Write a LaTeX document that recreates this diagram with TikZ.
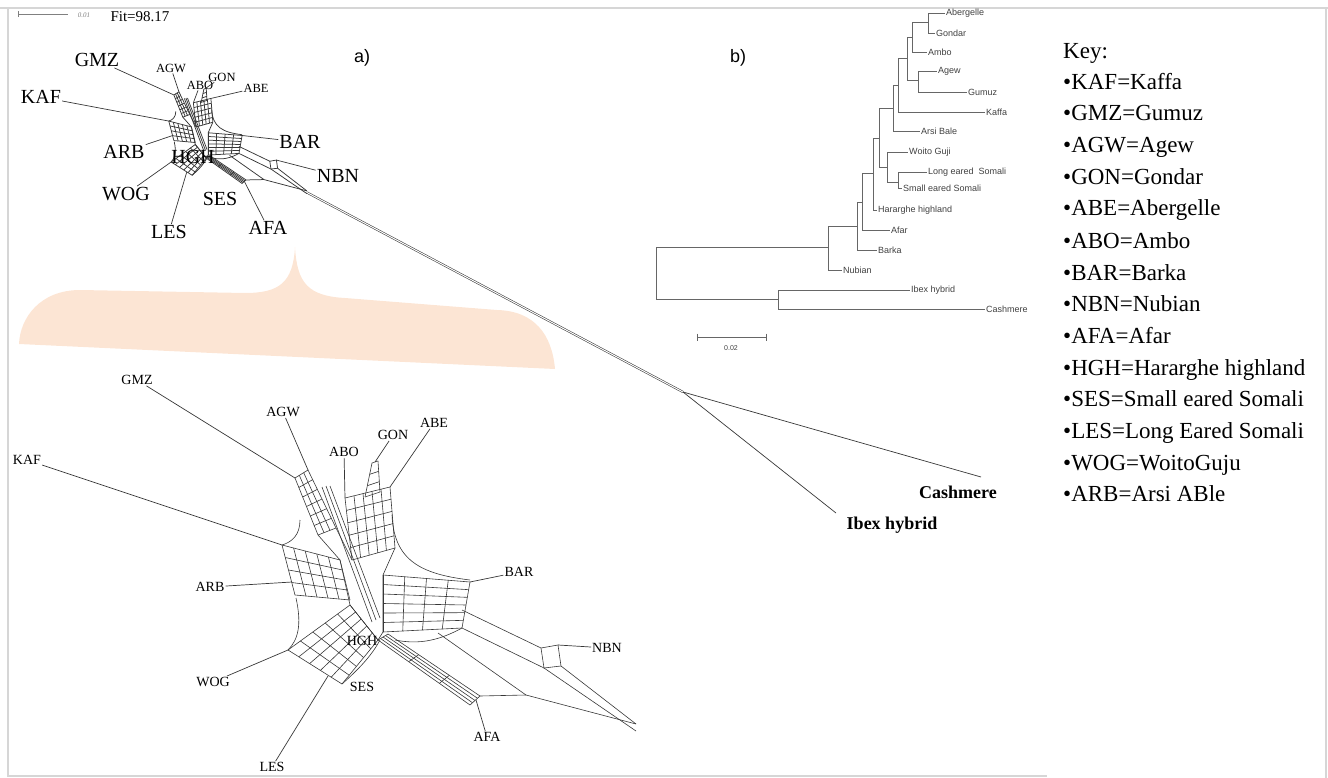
\documentclass[tikz,border=0pt]{standalone}
\usepackage{fontspec}
\setmainfont{Liberation Serif}
\newfontfamily\arialfont{Liberation Sans}
\usetikzlibrary{calc}
\definecolor{peach}{RGB}{252,229,212}
\definecolor{framegray}{RGB}{214,214,214}
\definecolor{netgray}{RGB}{55,55,55}

\newcommand{\webarm}[6]{%
  \foreach \i in {0,...,#5}{\draw[webline] ($(#1)!{\i/#5}!(#2)$) -- ($(#3)!{\i/#5}!(#4)$);}
  \foreach \j in {0,...,#6}{\draw[webline] ($(#1)!{\j/#6}!(#3)$) -- ($(#2)!{\j/#6}!(#4)$);}
}

\newcommand{\netweb}[1]{%
  \webarm{318,535}{336,528}{295,478}{308,470}{3}{6}
  \webarm{352,560}{395,548}{345,498}{390,487}{5}{5}
  \webarm{365,497}{380,492}{372,463}{378,461}{1}{3}
  \webarm{340,560}{350,600}{282,545}{295,595}{4}{5}
  \webarm{350,605}{378,640}{288,650}{342,684}{5}{5}
  \webarm{383,575}{383,632}{470,582}{462,628}{6}{4}
  \webarm{378,640}{388,634}{470,705}{480,696}{4}{3}
  \draw[webline] (322,487) -- (372,622);
  \draw[webline] (326,486) -- (376,620);
  \draw[webline] (330,486) -- (380,618);
  \draw[webline] (318,535) -- (340,560) -- (350,605) -- (378,640) -- (383,632) -- (383,575) -- (395,548);
  \draw[webline] (336,528) -- (352,560);
  \draw[webline] (392,515) .. controls (394,560) and (420,574) .. (470,580);
  \draw[webline] (300,520) .. controls (300,535) and (292,542) .. (282,545);
  \draw[webline] (296,598) .. controls (302,625) and (298,640) .. (288,650);
  \draw[webline] (342,684) .. controls (360,668) and (372,655) .. (380,640);
  \draw[webline] (462,628) .. controls (440,640) and (420,645) .. (395,640);
  \draw[webline] (541,648) -- (558,645) -- (561,666) -- (544,668) -- cycle;
  \draw[webline] (462,610) -- (541,648);
  \draw[webline] (462,628) -- (544,668);
  \draw[webline] (480,696) -- (526,695);
  \draw[webline] (438,633) -- (526,695);
  \coordinate (#1outa) at (636,724);
  \coordinate (#1outb) at (636,731);
  \coordinate (#1out) at (636,728);
  \draw[webline] (544,668) -- (#1outb);
  \draw[webline] (561,666) -- (#1outa);
  \draw[webline] (526,695) -- (#1outa);
  \coordinate (#1gmz) at (295,478);
  \coordinate (#1agw) at (308,470);
  \coordinate (#1abo) at (345,498);
  \coordinate (#1gon) at (375,462);
  \coordinate (#1abe) at (390,487);
  \coordinate (#1kaf) at (282,545);
  \coordinate (#1arb) at (292,582);
  \coordinate (#1wog) at (288,650);
  \coordinate (#1les) at (328,676);
  \coordinate (#1bar) at (470,582);
  \coordinate (#1nbn) at (558,645);
  \coordinate (#1afa) at (476,700);
}

\begin{document}
\begin{tikzpicture}[x=1pt,y=-1pt,
  framel/.style={draw=framegray,line width=2.5pt},
  webline/.style={draw=netgray,line width=0.6pt},
  leafline/.style={draw=netgray,line width=0.7pt},
  longedge/.style={draw=netgray,line width=0.55pt,double=white,double distance=1pt},
  biglab/.style={font=\fontsize{20}{22}\selectfont,inner sep=1pt},
  smalllab/.style={font=\fontsize{12.5}{14}\selectfont,inner sep=1pt},
  netlab/.style={font=\fontsize{14}{16}\selectfont,inner sep=1pt},
  outlab/.style={font=\bfseries\fontsize{18}{20}\selectfont,inner sep=1pt},
  panel/.style={font=\arialfont\fontsize{18}{20}\selectfont},
  treeline/.style={draw=black!60,line width=0.75pt},
  treelab/.style={font=\arialfont\fontsize{9}{10}\selectfont,text=black!75,anchor=west,inner sep=1pt},
  keytxt/.style={font=\fontsize{23}{25}\selectfont,anchor=base west,inner sep=0pt}]
\useasboundingbox (0,0) rectangle (1328,778);

\draw[framel] (0,8) -- (1328,8);
\draw[framel] (8,8) -- (8,776) -- (1047,776);
\draw[framel] (1326,8) -- (1326,778);

\fill[peach] (295,247) .. controls (293,282) and (280,293) .. (245,293) -- (80,290)
  .. controls (40,290) and (20,318) .. (19,344) -- (555,369)
  .. controls (552,335) and (535,311) .. (497,310) -- (345,298)
  .. controls (308,296) and (297,283) .. (295,247) -- cycle;

\coordinate (sb1) at (18,14);
\coordinate (sb2) at (68,14);
\draw[black!50,line width=0.6pt,|-] (sb1) -- (sb2);
\node[font=\itshape\fontsize{7}{8}\selectfont,text=black!50] (sbtxt) at (84,15) {0.01};
\node[font=\fontsize{15}{16}\selectfont] (fit) at (140,17) {Fit=98.17};
\node[panel] (pa) at (362,58) {a)};
\node[panel] (pb) at (738,58) {b)};

\begin{scope}[shift={(207,155)},scale=0.39,shift={(-380,-632)},webline/.append style={line width=0.75pt}]
\netweb{t}
\end{scope}
\netweb{b}

\node[biglab] (tGMZ) at (97,60) {GMZ};
\node[biglab] (tKAF) at (41,97) {KAF};
\node[smalllab] (tAGW) at (171,68) {AGW};
\node[smalllab] (tABO) at (200,85) {ABO};
\node[smalllab] (tGON) at (222,77) {GON};
\node[smalllab] (tABE) at (256,88) {ABE};
\node[biglab] (tBAR) at (300,142) {BAR};
\node[biglab] (tARB) at (124,152) {ARB};
\node[biglab] (tHGH) at (193,157) {HGH};
\node[biglab] (tNBN) at (338,176) {NBN};
\node[biglab] (tWOG) at (126,194) {WOG};
\node[biglab] (tSES) at (220,199) {SES};
\node[biglab] (tLES) at (169,232) {LES};
\node[biglab] (tAFA) at (268,228) {AFA};

\draw[leafline] (tGMZ) -- (tgmz);
\draw[leafline] (tKAF) -- (tkaf);
\draw[leafline] (tAGW) -- (tagw);
\draw[leafline] (tABO) -- (tabo);
\draw[leafline] (tGON) -- (tgon);
\draw[leafline] (tABE) -- (tabe);
\draw[leafline] (tBAR) -- (tbar);
\draw[leafline] (tARB) -- (tarb);
\draw[leafline] (tNBN) -- (tnbn);
\draw[leafline] (tWOG) -- (twog);
\draw[leafline] (tLES) -- (tles);
\draw[leafline] (tAFA) -- (tafa);

\coordinate (junc) at (683,392);
\coordinate (cashtip) at (981,477);
\coordinate (ibextip) at (836,513);
\draw[longedge] (tout) -- (junc);
\draw[leafline] (junc) -- (cashtip);
\draw[leafline] (junc) -- (ibextip);
\node[outlab] (lCash) at (958,492) {Cashmere};
\node[outlab] (lIbex) at (892,525) {Ibex hybrid};

\node[netlab] (bGMZ) at (137,380) {GMZ};
\node[netlab] (bAGW) at (283,412) {AGW};
\node[netlab] (bABO) at (344,452) {ABO};
\node[netlab] (bGON) at (393,435) {GON};
\node[netlab] (bABE) at (434,423) {ABE};
\node[netlab] (bKAF) at (27,460) {KAF};
\node[netlab] (bBAR) at (519,572) {BAR};
\node[netlab] (bARB) at (210,587) {ARB};
\node[netlab] (bHGH) at (362,641) {HGH};
\node[netlab] (bNBN) at (607,648) {NBN};
\node[netlab] (bWOG) at (213,682) {WOG};
\node[netlab] (bSES) at (362,687) {SES};
\node[netlab] (bAFA) at (487,737) {AFA};
\node[netlab] (bLES) at (272,767) {LES};

\draw[leafline] (bGMZ) -- (bgmz);
\draw[leafline] (bKAF) -- (bkaf);
\draw[leafline] (bAGW) -- (bagw);
\draw[leafline] (bABO) -- (babo);
\draw[leafline] (bGON) -- (bgon);
\draw[leafline] (bABE) -- (babe);
\draw[leafline] (bBAR) -- (bbar);
\draw[leafline] (bARB) -- (barb);
\draw[leafline] (bNBN) -- (bnbn);
\draw[leafline] (bWOG) -- (bwog);
\draw[leafline] (bLES) -- (bles);
\draw[leafline] (bAFA) -- (bafa);

\coordinate (root) at (656,273);
\coordinate (n13) at (828,247);
\coordinate (n12) at (857,226);
\coordinate (n11) at (862,202);
\coordinate (n10) at (873,173);
\coordinate (n7) at (879,138);
\coordinate (n6) at (893,108);
\coordinate (n5) at (898,85);
\coordinate (n3) at (907,58);
\coordinate (n2) at (912,37);
\coordinate (n1) at (928,22);
\coordinate (n4) at (918,80);
\coordinate (n9) at (887,167);
\coordinate (n8) at (898,182);
\coordinate (nout) at (778,299);

\node[treelab] (lAber) at (945,13) {Abergelle};
\node[treelab] (lGond) at (935,33) {Gondar};
\node[treelab] (lAmbo) at (927,52) {Ambo};
\node[treelab] (lAgew) at (937,71) {Agew};
\node[treelab] (lGumuz) at (967,92) {Gumuz};
\node[treelab] (lKaffa) at (985,112) {Kaffa};
\node[treelab] (lArsi) at (920,131) {Arsi Bale};
\node[treelab] (lWoito) at (908,152) {Woito Guji};
\node[treelab] (lLong) at (927,172) {Long eared\ \ Somali};
\node[treelab] (lSmall) at (902,188) {Small eared Somali};
\node[treelab] (lHH) at (877,210) {Hararghe highland};
\node[treelab] (lAfar) at (890,230) {Afar};
\node[treelab] (lBarka) at (877,250) {Barka};
\node[treelab] (lNub) at (842,270) {Nubian};
\node[treelab] (lIbx) at (910,290) {Ibex hybrid};
\node[treelab] (lCsh) at (985,309) {Cashmere};

\draw[treeline] (root) |- (n13);
\draw[treeline] (root) |- (nout);
\draw[treeline] (n13) |- (n12);
\draw[treeline] (n13) |- (lNub.west);
\draw[treeline] (n12) |- (n11);
\draw[treeline] (n12) |- (lBarka.west);
\draw[treeline] (n11) |- (n10);
\draw[treeline] (n11) |- (lAfar.west);
\draw[treeline] (n10) |- (n7);
\draw[treeline] (n10) |- (lHH.west);
\draw[treeline] (n7) |- (n6);
\draw[treeline] (n7) |- (n9);
\draw[treeline] (n6) |- (n5);
\draw[treeline] (n6) |- (lArsi.west);
\draw[treeline] (n5) |- (n3);
\draw[treeline] (n5) |- (lKaffa.west);
\draw[treeline] (n3) |- (n2);
\draw[treeline] (n3) |- (n4);
\draw[treeline] (n2) |- (n1);
\draw[treeline] (n2) |- (lAmbo.west);
\draw[treeline] (n1) |- (lAber.west);
\draw[treeline] (n1) |- (lGond.west);
\draw[treeline] (n4) |- (lAgew.west);
\draw[treeline] (n4) |- (lGumuz.west);
\draw[treeline] (n9) |- (lWoito.west);
\draw[treeline] (n9) |- (n8);
\draw[treeline] (n8) |- (lLong.west);
\draw[treeline] (n8) |- (lSmall.west);
\draw[treeline] (nout) |- (lIbx.west);
\draw[treeline] (nout) |- (lCsh.west);

\coordinate (tb1) at (697,337);
\coordinate (tb2) at (767,337);
\draw[treeline,|-|] (tb1) -- (tb2);
\node[treelab,anchor=center,font=\arialfont\fontsize{7}{8}\selectfont] (tbtxt) at (731,348) {0.02};

\node[keytxt] (k0) at (1063,59) {Key:};
\node[keytxt] (k1) at (1063,90) {•KAF=Kaffa};
\node[keytxt] (k2) at (1063,121) {•GMZ=Gumuz};
\node[keytxt] (k3) at (1063,153) {•AGW=Agew};
\node[keytxt] (k4) at (1063,185) {•GON=Gondar};
\node[keytxt] (k5) at (1063,216) {•ABE=Abergelle};
\node[keytxt] (k6) at (1063,248) {•ABO=Ambo};
\node[keytxt] (k7) at (1063,280) {•BAR=Barka};
\node[keytxt] (k8) at (1063,311) {•NBN=Nubian};
\node[keytxt] (k9) at (1063,343) {•AFA=Afar};
\node[keytxt] (k10) at (1063,375) {•HGH=Hararghe highland};
\node[keytxt] (k11) at (1063,406) {•SES=Small eared Somali};
\node[keytxt] (k12) at (1063,438) {•LES=Long Eared Somali};
\node[keytxt] (k13) at (1063,470) {•WOG=WoitoGuju};
\node[keytxt] (k14) at (1063,501) {•ARB=Arsi ABle};
\end{tikzpicture}
\end{document}
